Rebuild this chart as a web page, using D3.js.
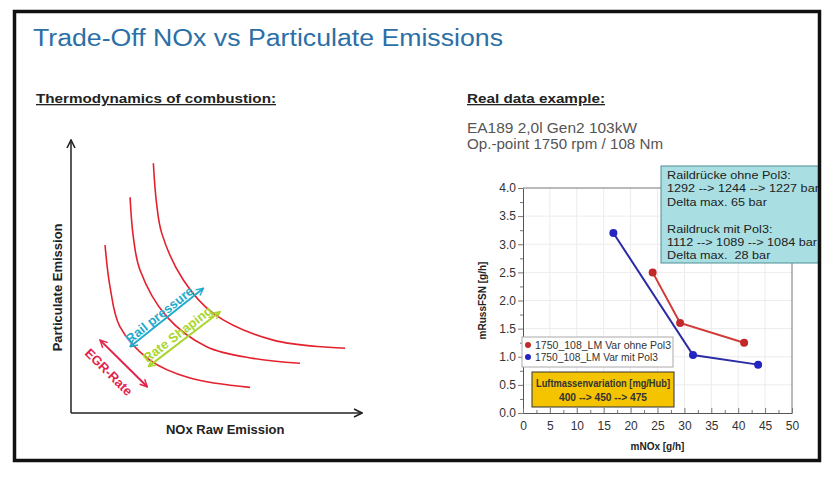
<!DOCTYPE html>
<html>
<head>
<meta charset="utf-8">
<script src="https://cdn.jsdelivr.net/npm/d3@7"></script>
<style>
  html, body { margin: 0; padding: 0; background: #fff; }
  svg { display: block; font-family: Arial, "Liberation Sans", sans-serif; }
  text { white-space: pre; }
</style>
</head>
<body>
<svg id="chart" width="834" height="478"></svg>
<script>
const width = 834;
const height = 478;

// Left schematic: three trade-off curves in arbitrary units (0..100)
const curveInner = [[11.7, 61.5], [13.4, 46.3], [16.8, 31.6], [27.1, 19.4], [40.9, 12.8], [61.5, 9.4]];
const curveMiddle = [[20.3, 79.0], [21.4, 64.6], [23.7, 52.4], [32.9, 35.3], [46.6, 24.3], [62.6, 20.0], [78.7, 18.2]];
const curveOuter = [[28.3, 91.5], [29.4, 76.8], [31.2, 65.8], [38.6, 48.7], [48.9, 36.5], [69.5, 26.7], [94.2, 23.7]];
const schematicCurves = [curveInner, curveMiddle, curveOuter];

// Annotation arrows on the schematic: [from, to] in the same units
const arrowNames = ["Rail pressure", "Rate Shaping", "EGR-Rate"];
const arrowEnds = [[[20.3, 24.3], [45.5, 45.7]], [[26.6, 17.0], [51.2, 37.1]], [[10.0, 26.7], [26.2, 9.6]]];
const arrowLabelAt = [[30.4, 36.0], [36.6, 28.9], [13.0, 15.0]];

// Right chart: measured data
const seriesNames = ["1750_108_LM Var ohne Pol3", "1750_108_LM Var mit Pol3"];
const noxOhne = [24.1, 29.2, 41.1];
const russOhne = [2.50, 1.60, 1.25];
const noxMit = [16.8, 31.6, 43.7];
const russMit = [3.20, 1.03, 0.86];
const xTicks = [0, 5, 10, 15, 20, 25, 30, 35, 40, 45, 50];
const yTicks = [0, 0.5, 1.0, 1.5, 2.0, 2.5, 3.0, 3.5, 4.0];

const railLines = ["Raildrücke ohne Pol3:", "1292 --> 1244 --> 1227 bar", "Delta max. 65 bar", "",
                   "Raildruck mit Pol3:", "1112 --> 1089 --> 1084 bar", "Delta max.  28 bar"];
const airLines = ["Luftmassenvariation [mg/Hub]", "400 --> 450 --> 475"];

const RED = "#e3222e";
const svg = d3.select("#chart");

svg.append("rect").attr("width", width).attr("height", height).attr("fill", "#fff");

// the slide text is a bit wider than the font, stretch it to the measured length
function stretch(sel, len) {
    sel.attr("textLength", len).attr("lengthAdjust", "spacingAndGlyphs");
    return sel;
}

// Title and headings
stretch(svg.append("text").attr("x", 33).attr("y", 46)
    .attr("font-size", 23).attr("fill", "#2b6fa6")
    .text("Trade-Off NOx vs Particulate Emissions"), 470);

stretch(svg.append("text").attr("x", 36).attr("y", 103)
    .attr("font-size", 13).attr("font-weight", "bold").attr("fill", "#222")
    .attr("text-decoration", "underline")
    .text("Thermodynamics of combustion:"), 240);

stretch(svg.append("text").attr("x", 467).attr("y", 103)
    .attr("font-size", 13).attr("font-weight", "bold").attr("fill", "#222")
    .attr("text-decoration", "underline")
    .text("Real data example:"), 138);

stretch(svg.append("text").attr("x", 467).attr("y", 133)
    .attr("font-size", 14).attr("fill", "#555")
    .text("EA189 2,0l Gen2 103kW"), 170);
stretch(svg.append("text").attr("x", 467).attr("y", 149)
    .attr("font-size", 14).attr("fill", "#555")
    .text("Op.-point 1750 rpm / 108 Nm"), 196);

// ---------- Left schematic ----------
const sx = d3.scaleLinear().domain([0, 100]).range([71, 362]);
const sy = d3.scaleLinear().domain([0, 100]).range([413, 140]);

const defs = svg.append("defs");
function addMarker(id, color, w) {
    defs.append("marker")
        .attr("id", id).attr("viewBox", "0 0 10 10")
        .attr("refX", 9).attr("refY", 5)
        .attr("markerWidth", w).attr("markerHeight", w)
        .attr("orient", "auto-start-reverse")
        .attr("markerUnits", "userSpaceOnUse")
        .append("path").attr("d", "M1,1 L9,5 L1,9")
        .attr("fill", "none").attr("stroke", color).attr("stroke-width", 1.6);
}
addMarker("axisArrow", "#222", 10);
const arrowColors = ["#22a9cc", "#a9d62c", "#e3224a"];
arrowColors.forEach((c, i) => addMarker("ann" + i, c, 9));

svg.append("line")
    .attr("x1", sx(0)).attr("y1", sy(0)).attr("x2", sx(0)).attr("y2", sy(100))
    .attr("stroke", "#222").attr("stroke-width", 1.5)
    .attr("marker-end", "url(#axisArrow)");
svg.append("line")
    .attr("x1", sx(0)).attr("y1", sy(0)).attr("x2", sx(100)).attr("y2", sy(0))
    .attr("stroke", "#222").attr("stroke-width", 1.5)
    .attr("marker-end", "url(#axisArrow)");

const schemLine = d3.line().x(d => sx(d[0])).y(d => sy(d[1])).curve(d3.curveCatmullRom);
svg.selectAll(".tradeoff").data(schematicCurves).join("path")
    .attr("class", "tradeoff")
    .attr("d", schemLine)
    .attr("fill", "none").attr("stroke", RED).attr("stroke-width", 1.6);

arrowEnds.forEach((ends, i) => {
    const [a, b] = ends;
    svg.append("line")
        .attr("x1", sx(a[0])).attr("y1", sy(a[1]))
        .attr("x2", sx(b[0])).attr("y2", sy(b[1]))
        .attr("stroke", arrowColors[i]).attr("stroke-width", 2)
        .attr("marker-start", `url(#ann${i})`)
        .attr("marker-end", `url(#ann${i})`);
    const ang = Math.atan2(sy(b[1]) - sy(a[1]), sx(b[0]) - sx(a[0])) * 180 / Math.PI;
    const [lx, ly] = [sx(arrowLabelAt[i][0]), sy(arrowLabelAt[i][1])];
    svg.append("text")
        .attr("transform", `translate(${lx},${ly}) rotate(${ang})`)
        .attr("text-anchor", "middle").attr("dy", "0.35em")
        .attr("font-size", 13).attr("font-weight", "bold")
        .attr("fill", arrowColors[i])
        .text(arrowNames[i]);
});

svg.append("text")
    .attr("transform", `translate(62,${sy(46)}) rotate(-90)`)
    .attr("text-anchor", "middle")
    .attr("font-size", 13).attr("font-weight", "bold").attr("fill", "#222")
    .text("Particulate Emission");
svg.append("text")
    .attr("x", sx(53)).attr("y", 434)
    .attr("text-anchor", "middle")
    .attr("font-size", 13).attr("font-weight", "bold").attr("fill", "#222")
    .text("NOx Raw Emission");

// ---------- Right chart ----------
const x = d3.scaleLinear().domain([0, 50]).range([523, 792]);
const y = d3.scaleLinear().domain([0, 4]).range([413, 188]);

const grid = svg.append("g").attr("stroke", "#ececec").attr("stroke-width", 1);
grid.selectAll(".gx").data(xTicks.slice(1, -1)).join("line")
    .attr("x1", d => x(d)).attr("x2", d => x(d))
    .attr("y1", y(0)).attr("y2", y(4));
grid.selectAll(".gy").data(yTicks.slice(1, -1)).join("line")
    .attr("y1", d => y(d)).attr("y2", d => y(d))
    .attr("x1", x(0)).attr("x2", x(50));

// plot border (top and right)
svg.append("path")
    .attr("d", `M${x(0)},${y(4)}H${x(50)}V${y(0)}`)
    .attr("fill", "none").attr("stroke", "#777").attr("stroke-width", 1);

// minor ticks
svg.append("g").attr("transform", `translate(${x(0)},0)`)
    .call(d3.axisLeft(y).tickValues(d3.range(0.25, 4, 0.5)).tickSize(3).tickFormat(""))
    .call(g => g.select(".domain").remove())
    .selectAll("line").attr("stroke", "#777");
svg.append("g").attr("transform", `translate(0,${y(0)})`)
    .call(d3.axisTop(x).tickValues(d3.range(2.5, 50, 5)).tickSize(3).tickFormat(""))
    .call(g => g.select(".domain").remove())
    .selectAll("line").attr("stroke", "#777");

const yAxis = svg.append("g").attr("transform", `translate(${x(0)},0)`)
    .call(d3.axisLeft(y).tickValues(yTicks).tickSize(5).tickSizeOuter(0).tickFormat(d3.format(".1f")));
const xAxis = svg.append("g").attr("transform", `translate(0,${y(0)})`)
    .call(d3.axisBottom(x).tickValues(xTicks).tickSize(0).tickPadding(8).tickSizeOuter(0));
[yAxis, xAxis].forEach(g => {
    g.select(".domain").attr("stroke", "#555");
    g.selectAll(".tick line").attr("stroke", "#777");
    g.selectAll(".tick text").attr("font-size", 12).attr("fill", "#333")
        .attr("font-family", "Arial, 'Liberation Sans', sans-serif");
});
yAxis.selectAll(".tick text").attr("x", -7);
svg.append("g").attr("transform", `translate(0,${y(0)})`)
    .call(d3.axisTop(x).tickValues(xTicks).tickSize(5).tickFormat(""))
    .call(g => g.select(".domain").remove())
    .selectAll("line").attr("stroke", "#777");

svg.append("text")
    .attr("transform", `translate(486,${y(2)}) rotate(-90)`)
    .attr("text-anchor", "middle")
    .attr("font-size", 10).attr("font-weight", "bold").attr("fill", "#222")
    .text("mRussFSN [g/h]");
svg.append("text")
    .attr("x", x(25)).attr("y", 450)
    .attr("text-anchor", "middle")
    .attr("font-size", 10).attr("font-weight", "bold").attr("fill", "#222")
    .text("mNOx [g/h]");

// data series
const series = [
    { name: seriesNames[0], xs: noxOhne, ys: russOhne, line: "#d23a3a", dot: "#c22a2a" },
    { name: seriesNames[1], xs: noxMit, ys: russMit, line: "#2b2ba6", dot: "#2424c0" }
];
const dataLine = d3.line().x(d => x(d[0])).y(d => y(d[1]));
series.forEach(s => {
    const pts = s.xs.map((v, i) => [v, s.ys[i]]);
    svg.append("path").attr("d", dataLine(pts))
        .attr("fill", "none").attr("stroke", s.line).attr("stroke-width", 2);
    svg.selectAll(null).data(pts).join("circle")
        .attr("cx", d => x(d[0])).attr("cy", d => y(d[1])).attr("r", 4)
        .attr("fill", s.dot);
});

// legend
const legend = svg.append("g").attr("transform", "translate(522,337)");
legend.append("rect").attr("width", 151).attr("height", 30)
    .attr("fill", "#fff").attr("stroke", "#aaa");
series.forEach((s, i) => {
    legend.append("circle").attr("cx", 6).attr("cy", 8 + i * 12).attr("r", 3).attr("fill", s.dot);
    stretch(legend.append("text").attr("x", 13).attr("y", 11.5 + i * 12)
        .attr("font-size", 10.5).attr("fill", "#333").text(s.name), i === 0 ? 136 : 123);
});

// air mass box
const air = svg.append("g").attr("transform", "translate(532,372)");
air.append("rect").attr("width", 142).attr("height", 35)
    .attr("fill", "#f4c400").attr("stroke", "#333");
airLines.forEach((t, i) => {
    stretch(air.append("text").attr("x", 71).attr("y", 15 + i * 14)
        .attr("text-anchor", "middle")
        .attr("font-size", 10).attr("font-weight", "bold").attr("fill", "#333")
        .text(t), i === 0 ? 134 : 88);
});

// rail pressure box (clipped by the slide frame)
defs.append("clipPath").attr("id", "railClip")
    .append("rect").attr("x", 0).attr("y", 0).attr("width", 819).attr("height", height);
const rail = svg.append("g").attr("clip-path", "url(#railClip)");
rail.append("rect").attr("x", 661).attr("y", 166).attr("width", 170).attr("height", 97)
    .attr("fill", "#a9dfe3").attr("stroke", "#4f8e94");
railLines.forEach((t, i) => {
    const tx = rail.append("text").attr("x", 667).attr("y", 179 + i * 13.4)
        .attr("font-size", 11.5).attr("fill", "#222").text(t);
    if (t) stretch(tx, tx.node().getComputedTextLength() * 1.1);
});

// slide frame
svg.append("rect").attr("x", 14.5).attr("y", 11.5).attr("width", 805).attr("height", 449)
    .attr("fill", "none").attr("stroke", "#111").attr("stroke-width", 3.5);
</script>
</body>
</html>
